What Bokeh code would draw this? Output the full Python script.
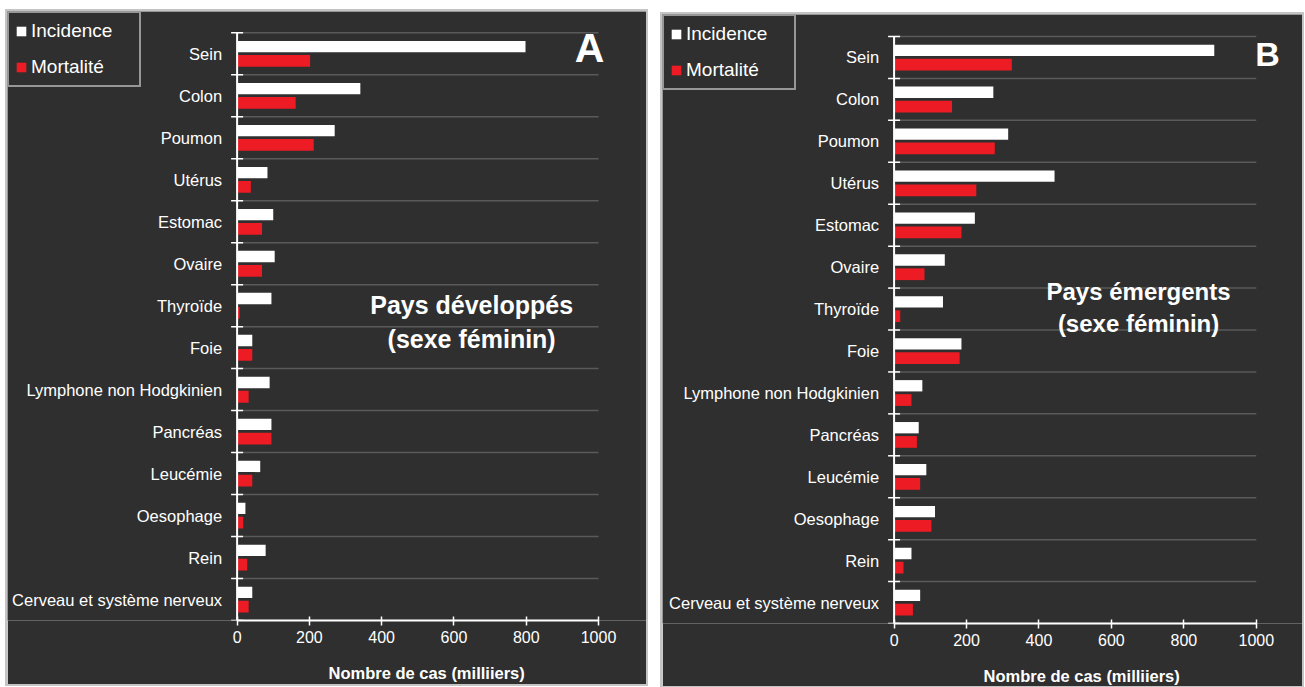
from bokeh.plotting import figure
from bokeh.layouts import row, column, Spacer
from bokeh.models import (Range1d, FixedTicker, Legend, LegendItem, Label, Title,
                          LinearAxis, ColumnDataSource)
from bokeh.core.properties import value
from bokeh.transform import dodge
from bokeh.embed import file_html
from bokeh.resources import INLINE

# ---------------- data ----------------
categories = ["Sein", "Colon", "Poumon", "Utérus", "Estomac", "Ovaire", "Thyroïde",
              "Foie", "Lymphone non Hodgkinien", "Pancréas", "Leucémie", "Oesophage",
              "Rein", "Cerveau et système nerveux"]

dev_incidence = [798, 341, 270, 84, 100, 104, 95, 42, 90, 95, 64, 23, 79, 42]
dev_mortalite = [202, 162, 212, 38, 69, 69, 7, 42, 32, 95, 42, 17, 28, 32]

emg_incidence = [884, 274, 315, 443, 223, 140, 135, 186, 78, 68, 89, 113, 48, 72]
emg_mortalite = [325, 160, 278, 227, 186, 84, 17, 181, 48, 63, 72, 103, 26, 52]

x_ticks = [0, 200, 400, 600, 800, 1000]
series_labels = ["Incidence", "Mortalité"]
x_title = "Nombre de cas (milliiers)"

# ---------------- style ----------------
BG = "#2f2f2f"
GRID = "#5a5a5a"
RED = "#ed1c24"
FONT = "Liberation Sans"


def panel(inc, mort, width, height, xr, yr, bottom, letter, letter_xy, letter_size,
          note, note_xy, note_size, title_offset):
    n = len(categories)
    p = figure(width=width, height=height, x_range=Range1d(*xr), y_range=Range1d(*yr),
               output_backend="svg", toolbar_location=None, y_axis_location=None,
               min_border_left=0, min_border_right=0, min_border_top=0,
               min_border_bottom=bottom,
               background_fill_color=BG, border_fill_color=BG, outline_line_color=None)
    p.xgrid.grid_line_color = None
    p.ygrid.grid_line_color = None
    p.styles = {"outline": "2px solid #c4c4c4"}

    bounds = [i - 0.5 for i in range(n + 1)]
    xmax = x_ticks[-1]
    # horizontal grid lines at category boundaries
    p.segment(x0=[0] * len(bounds), x1=[xmax] * len(bounds), y0=bounds, y1=bounds,
              line_color=GRID, line_width=1.5)

    src = ColumnDataSource(dict(y=list(range(n)), inc=inc, mort=mort, cat=categories))
    r1 = p.hbar(y=dodge("y", -0.17), left=0, right="inc", height=0.27, source=src,
                fill_color="white", line_color=None)
    r2 = p.hbar(y=dodge("y", 0.17), left=0, right="mort", height=0.28, source=src,
                fill_color=RED, line_color=None)

    # category axis: line, crossing ticks at boundaries, labels
    p.segment(x0=[0], x1=[0], y0=[bounds[0]], y1=[bounds[-1]], line_color="white",
              line_width=2)
    p.scatter(x=[0] * len(bounds), y=bounds, marker="dash", size=12,
              line_color="white", line_width=1.5)
    p.text(x=0, y="y", text="cat", source=src, x_offset=-15, text_align="right",
           text_baseline="middle", text_color="white", text_font=value(FONT),
           text_font_size=value("16.5px"))

    xax = p.xaxis[0]
    xax.bounds = (x_ticks[0], x_ticks[-1])
    xax.ticker = FixedTicker(ticks=x_ticks)
    xax.major_tick_line_color = "white"
    xax.major_tick_line_width = 1.5
    xax.major_tick_in = 4
    xax.major_tick_out = 5
    xax.minor_tick_line_color = None
    xax.axis_line_color = "white"
    xax.axis_line_width = 2
    xax.major_label_standoff = 5
    xax.major_label_text_color = "white"
    xax.major_label_text_font = FONT
    xax.major_label_text_font_size = "16px"

    # empty spacer axis (blank label) to push the axis title down a little
    gap = LinearAxis(ticker=FixedTicker(ticks=[]), major_tick_out=0, major_tick_in=0,
                     minor_tick_out=0, minor_tick_in=0, major_label_standoff=0,
                     major_tick_line_color=None, minor_tick_line_color=None,
                     axis_line_color=None, axis_label=" ", axis_label_standoff=2,
                     axis_label_text_font_size="10px", axis_label_text_color=BG)
    p.add_layout(gap, "below")
    p.add_layout(Title(text=x_title, align="left", offset=title_offset, standoff=0,
                       text_font=FONT, text_font_size="16.5px", text_font_style="bold",
                       text_color="white"), "below")

    legend = Legend(items=[LegendItem(label=series_labels[0], renderers=[r1]),
                           LegendItem(label=series_labels[1], renderers=[r2])],
                    location="top_left", margin=0, padding=6, spacing=12,
                    glyph_width=12, glyph_height=12, label_standoff=4,
                    label_width=102, label_height=24,
                    label_text_font=FONT, label_text_font_size="19px",
                    label_text_color="white", label_text_baseline="middle",
                    background_fill_color=BG, background_fill_alpha=1,
                    border_line_color="white", border_line_width=2)
    p.add_layout(legend, "center")

    p.add_layout(Label(x=letter_xy[0], y=letter_xy[1], text=letter, text_color="white",
                       text_font=FONT, text_font_size=letter_size, text_font_style="bold",
                       text_align="center", text_baseline="middle"))
    p.add_layout(Label(x=note_xy[0], y=note_xy[1], text=note, text_color="white",
                       text_font=FONT, text_font_size=note_size, text_font_style="bold",
                       text_align="center", text_baseline="middle", text_line_height=1.2))
    return p


pA = panel(dev_incidence, dev_mortalite, 639, 673, (-635.3, 1132.8), (13.5, -1.007), 64,
           "A", (975, -0.126), "41px",
           "Pays développés\n(sexe féminin)", (649, 6.39), "25px", 321)
pB = panel(emg_incidence, emg_mortalite, 640, 672, (-639.4, 1127.6), (13.5, -1.025), 63,
           "B", (1031, -0.087), "34px",
           "Pays émergents\n(sexe féminin)", (675, 5.97), "24px", 321)

layout = column(Spacer(height=11),
                row(Spacer(width=7), pA, Spacer(width=16),
                    column(Spacer(height=3), pB, spacing=0), spacing=0),
                spacing=0)
open("out.html", "w").write(file_html(layout, INLINE))
